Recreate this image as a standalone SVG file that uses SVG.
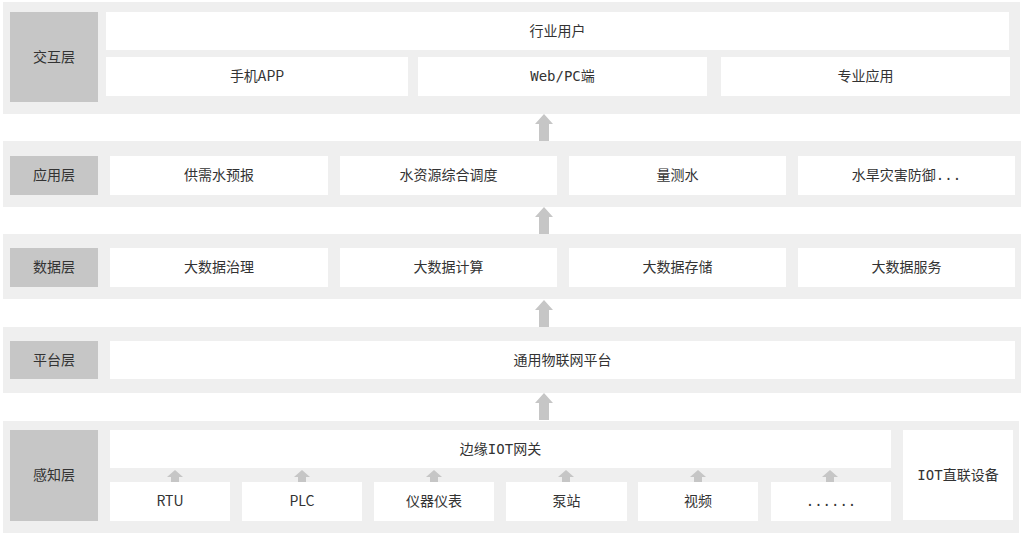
<svg xmlns="http://www.w3.org/2000/svg" width="1024" height="535" viewBox="0 0 1024 535">
<defs>
<style>
.bg{fill:#efefef}
.lab{fill:#c6c6c6}
.box{fill:#ffffff}
.arr{fill:#c6c6c6}
text{font-family:"Noto Sans CJK SC","Noto Sans",sans-serif;font-size:14px;fill:#333333;text-anchor:middle}
.mono{font-family:"DejaVu Sans Mono","Liberation Mono","Noto Sans CJK SC",monospace}
</style>
<path id="bigArrow" d="M0,0 L9,10 L5,10 L5,27 L-5,27 L-5,10 L-9,10 Z"/>
<path id="smallArrow" d="M0,0 L8,7 L4,7 L4,12 L-4,12 L-4,7 L-8,7 Z"/>
</defs>
<rect width="1024" height="535" fill="#ffffff"/>

<g id="layer-interaction">
<rect class="bg" x="3" y="2" width="1017" height="112"/>
<rect class="lab" x="10" y="12" width="88" height="90"/>
<text x="54" y="62">交互层</text>
<g id="node-industry-users"><rect class="box" x="106" y="12" width="903" height="38"/><text x="557.5" y="36">行业用户</text></g>
<g id="node-mobile-app"><rect class="box" x="106" y="57" width="302" height="39"/><text x="257" y="81">手机APP</text></g>
<g id="node-web-pc"><rect class="box" x="418" y="57" width="289" height="39"/><text x="562.5" y="81" class="mono">Web/PC<tspan font-family="Noto Sans CJK SC, sans-serif">端</tspan></text></g>
<g id="node-pro-app"><rect class="box" x="721" y="57" width="289" height="39"/><text x="865.5" y="81">专业应用</text></g>
</g>

<g id="layer-application">
<rect class="bg" x="3" y="141" width="1018" height="66"/>
<rect class="lab" x="10" y="156" width="88" height="39"/>
<text x="54" y="180">应用层</text>
<g id="node-forecast"><rect class="box" x="110" y="156" width="218" height="39"/><text x="219" y="180">供需水预报</text></g>
<g id="node-dispatch"><rect class="box" x="340" y="156" width="217" height="39"/><text x="448.5" y="180">水资源综合调度</text></g>
<g id="node-metering"><rect class="box" x="569" y="156" width="217" height="39"/><text x="677.5" y="180">量测水</text></g>
<g id="node-disaster"><rect class="box" x="798" y="156" width="217" height="39"/><text x="906.5" y="180">水旱灾害防御<tspan class="mono">...</tspan></text></g>
</g>

<g id="layer-data">
<rect class="bg" x="3" y="234" width="1018" height="65"/>
<rect class="lab" x="10" y="248" width="88" height="39"/>
<text x="54" y="272">数据层</text>
<g id="node-governance"><rect class="box" x="110" y="248" width="218" height="39"/><text x="219" y="272">大数据治理</text></g>
<g id="node-compute"><rect class="box" x="340" y="248" width="217" height="39"/><text x="448.5" y="272">大数据计算</text></g>
<g id="node-storage"><rect class="box" x="569" y="248" width="217" height="39"/><text x="677.5" y="272">大数据存储</text></g>
<g id="node-service"><rect class="box" x="798" y="248" width="217" height="39"/><text x="906.5" y="272">大数据服务</text></g>
</g>

<g id="layer-platform">
<rect class="bg" x="3" y="327" width="1018" height="66"/>
<rect class="lab" x="10" y="341" width="88" height="38"/>
<text x="54" y="365">平台层</text>
<g id="node-iot-platform"><rect class="box" x="110" y="341" width="905" height="38"/><text x="562.5" y="365">通用物联网平台</text></g>
</g>

<g id="layer-perception">
<rect class="bg" x="3" y="421" width="1016" height="112"/>
<rect class="lab" x="10" y="430" width="88" height="91"/>
<text x="54" y="480">感知层</text>
<g id="node-gateway"><rect class="box" x="110" y="430" width="781" height="38"/><text x="500.5" y="454">边缘<tspan class="mono">IOT</tspan>网关</text></g>
<g id="node-iot-direct"><rect class="box" x="903" y="430" width="110" height="90"/><text x="958" y="480"><tspan class="mono">IOT</tspan>直联设备</text></g>
<g id="node-rtu"><rect class="box" x="110" y="482" width="120" height="39"/><text x="170" y="506">RTU</text></g>
<g id="node-plc"><rect class="box" x="242" y="482" width="120" height="39"/><text x="302" y="506">PLC</text></g>
<g id="node-meter"><rect class="box" x="374" y="482" width="120" height="39"/><text x="434" y="506">仪器仪表</text></g>
<g id="node-pump"><rect class="box" x="506" y="482" width="121" height="39"/><text x="566.5" y="506">泵站</text></g>
<g id="node-video"><rect class="box" x="638" y="482" width="120" height="39"/><text x="698" y="506">视频</text></g>
<g id="node-more"><rect class="box" x="771" y="482" width="120" height="39"/><text x="831" y="506" class="mono">......</text></g>
</g>

<g id="connectors" class="arr">
<use href="#bigArrow" x="544" y="114"/>
<use href="#bigArrow" x="544" y="207"/>
<use href="#bigArrow" x="544" y="300"/>
<use href="#bigArrow" x="544" y="393"/>
<use href="#smallArrow" x="175" y="470"/>
<use href="#smallArrow" x="302" y="470"/>
<use href="#smallArrow" x="434" y="470"/>
<use href="#smallArrow" x="566" y="470"/>
<use href="#smallArrow" x="698" y="470"/>
<use href="#smallArrow" x="830" y="470"/>
</g>
</svg>
